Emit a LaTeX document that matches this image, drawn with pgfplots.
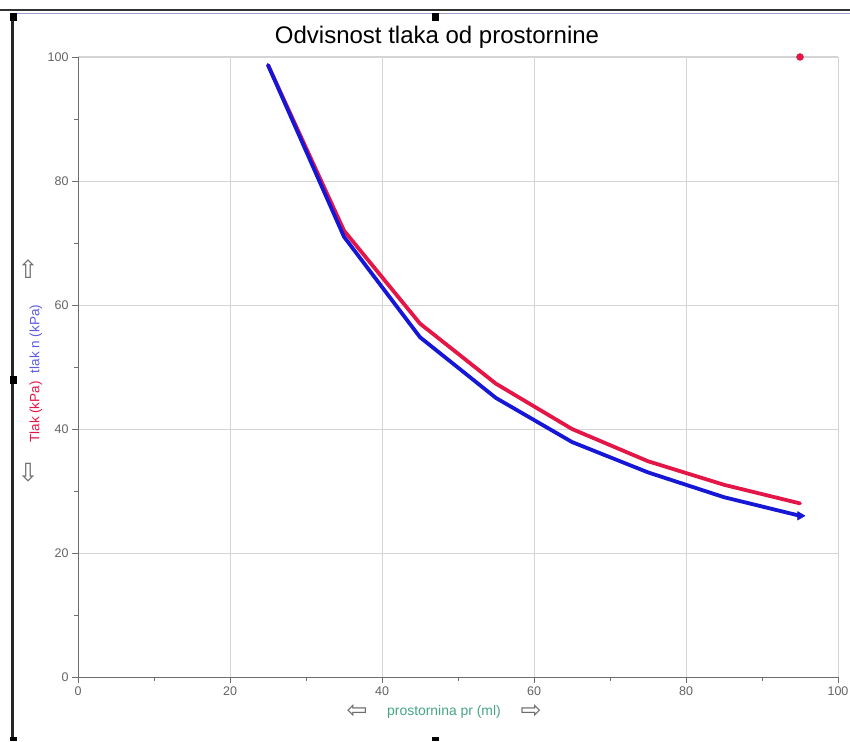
\documentclass[border=0pt]{standalone}
\usepackage{pgfplots}
\pgfplotsset{compat=1.18}
\usepackage{fontspec}
\setmainfont{Liberation Sans}
\newfontfamily\sym{DejaVu Sans}
\definecolor{redline}{RGB}{228,22,72}
\definecolor{blueline}{RGB}{22,22,215}
\definecolor{gridc}{RGB}{212,212,212}
\definecolor{axc}{RGB}{110,110,110}
\definecolor{tickc}{RGB}{100,100,100}
\definecolor{greenlab}{RGB}{70,165,135}

\pgfplotstableread{
x y
25 98.7
35 72
45 57
55 47.3
65 40
75 34.8
85 31
95 28
}\tlak

\pgfplotstableread{
x y
25 98.7
35 71
45 54.8
55 45
65 37.9
75 33
85 29
95 26
}\tlakn

\begin{document}
\begin{tikzpicture}[x=1pt,y=1pt]
\path[use as bounding box, fill=white] (0,0) rectangle (850,741);
% window frame
\draw[line width=2.5pt, black!80] (0,731) -- (850,731);
\draw[line width=1pt, blue!30!gray!60] (14,727) -- (850,727);
\draw[line width=3pt, black!85] (12,0) -- (12,724);
\fill[black] (10,720) rectangle (17,728);
\fill[black] (432,720) rectangle (439,728);
\fill[black] (10,357) rectangle (17,365);
\fill[black] (432,0) rectangle (439,4);
\fill[black] (10,0) rectangle (17,4);
\begin{axis}[
  at={(78pt,64pt)}, anchor=south west,
  scale only axis, width=760pt, height=620pt,
  xmin=0, xmax=100, ymin=0, ymax=100,
  xtick={0,20,...,100}, ytick={0,20,...,100},
  minor xtick={10,30,...,90}, minor ytick={10,30,...,90},
  grid=major, major grid style={gridc, line width=0.8pt},
  axis line style={draw=none},
  tick align=outside, tickpos=left,
  major tick length=6pt, minor tick length=4pt,
  every tick/.style={axc, line width=0.8pt},
  tick label style={font=\fontsize{12.5}{14}\selectfont, text=tickc},
  /pgf/number format/assume math mode=true,
  clip=true,
]
\draw[gridc, line width=1pt] (rel axis cs:0,1) -- (rel axis cs:1,1) -- (rel axis cs:1,0);
\draw[axc, line width=1pt] (rel axis cs:0,1) -- (rel axis cs:0,0) -- (rel axis cs:1,0);
\addplot[redline, line width=3.8pt, line join=round, line cap=round] table[x=x,y=y] {\tlak};
\addplot[blueline, line width=3.8pt, line join=round, line cap=round, mark=triangle*, mark size=5pt, mark indices={8}, mark options={rotate=-90, line width=0.5pt}] table[x=x,y=y] {\tlakn};
\addplot[only marks, mark=*, mark size=3.5pt, redline] coordinates {(95,100)};
\end{axis}
\node[font=\fontsize{24}{28}\selectfont] at (437,704) {Odvisnost tlaka od prostornine};
\node[rotate=90, font=\fontsize{13.5}{16}\selectfont, text=redline] at (36,329) {Tlak (kPa)};
\node[rotate=90, font=\fontsize{13.5}{16}\selectfont, text=blueline!70] at (36,402) {tlak n (kPa)};
\node[font=\sym\fontsize{25}{28}\selectfont, text=axc] at (28,472) {⇧};
\node[font=\sym\fontsize{25}{28}\selectfont, text=axc] at (28,268) {⇩};
\node[font=\fontsize{13.9}{16}\selectfont, text=greenlab] at (444,29) {prostornina pr (ml)};
\node[font=\sym\fontsize{25}{28}\selectfont, text=axc] at (357,30) {⇦};
\node[font=\sym\fontsize{25}{28}\selectfont, text=axc] at (531,30) {⇨};
\end{tikzpicture}
\end{document}
